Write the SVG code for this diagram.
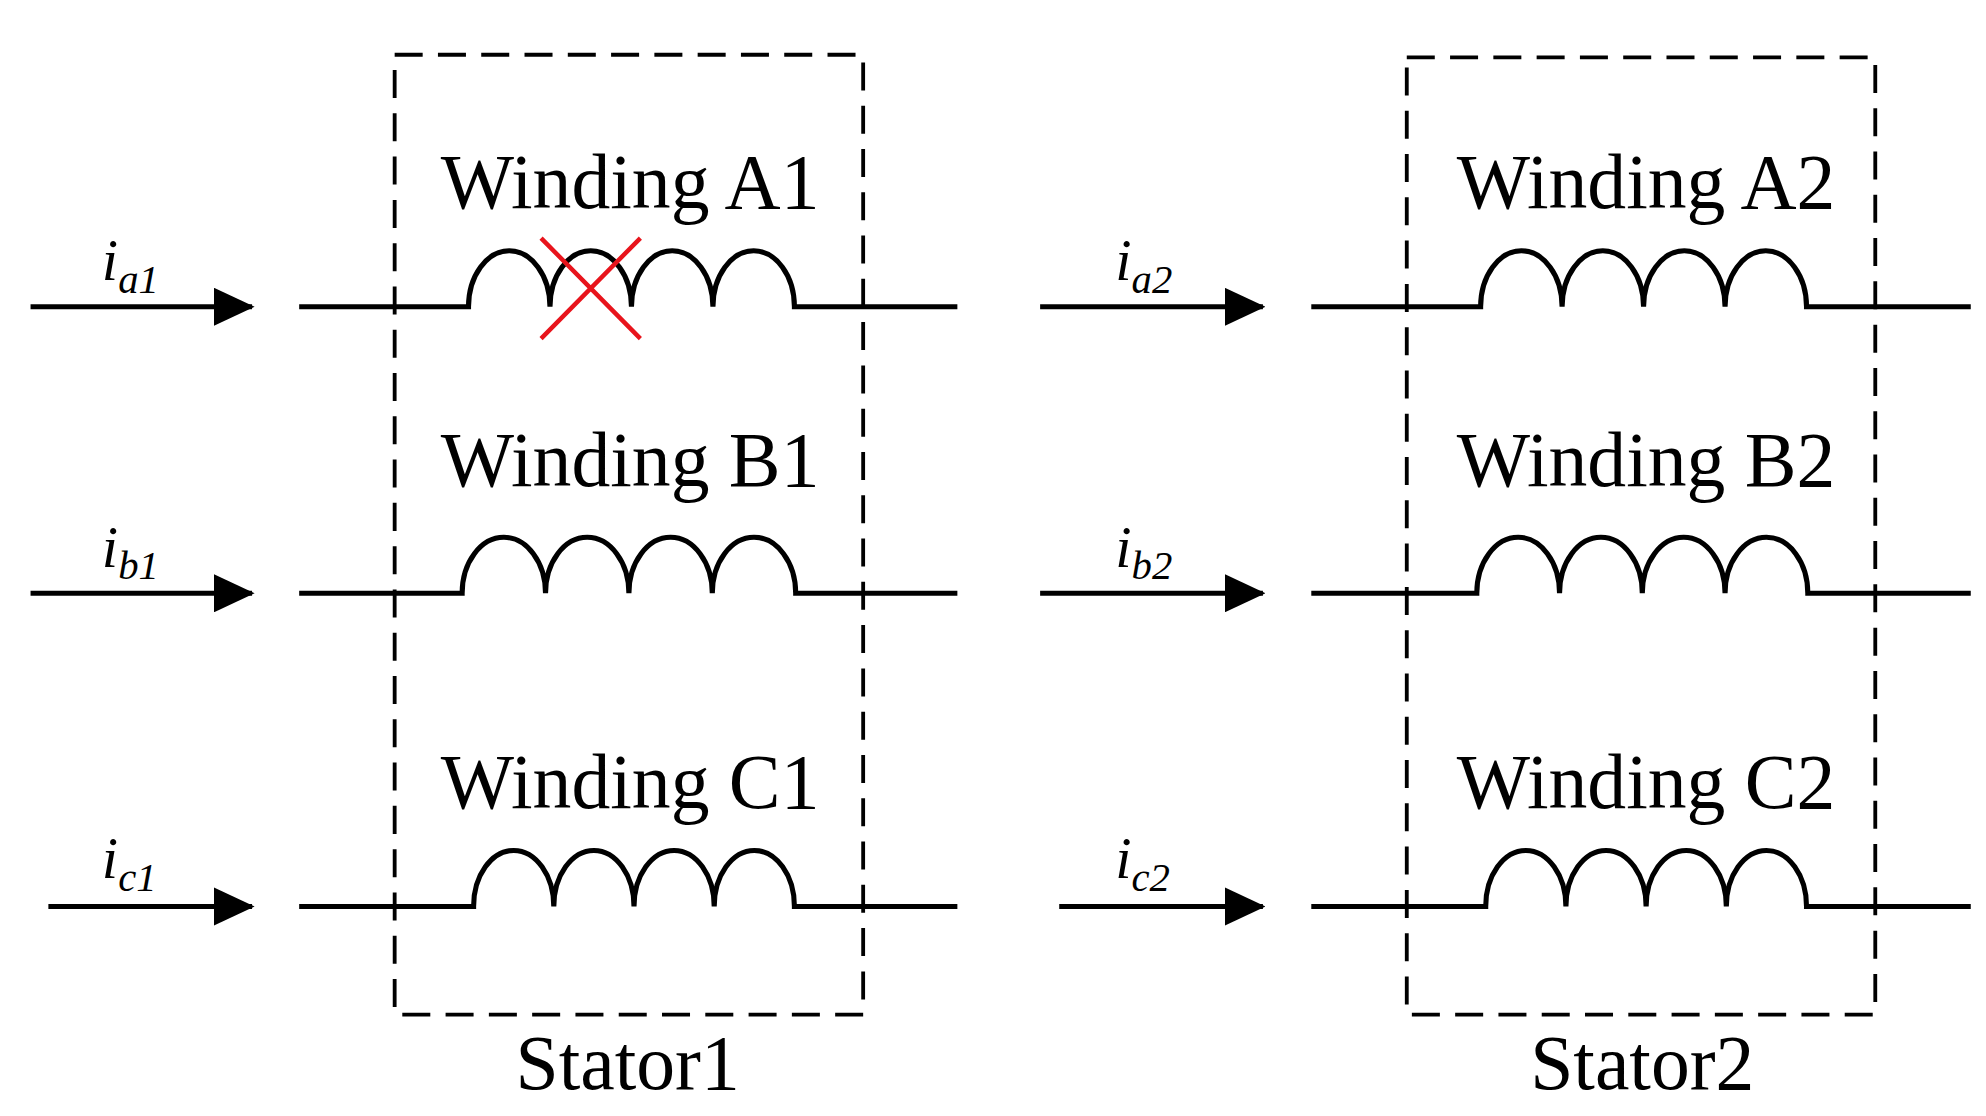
<svg xmlns="http://www.w3.org/2000/svg" width="1986" height="1116" viewBox="0 0 1986 1116">
<defs>
<style>
.w{fill:none;stroke:#000;stroke-width:4}
.box{fill:none;stroke:#000;stroke-width:3;stroke-dasharray:22 12}
.t{font-family:"Liberation Serif","Times New Roman",serif;font-size:61px;text-anchor:middle;fill:#000}
.i{font-family:"Liberation Serif","Times New Roman",serif;font-style:italic;font-size:46px;fill:#000}
.s{font-size:32px}
</style>
<marker id="ah" markerWidth="32" markerHeight="30" refX="30" refY="15" orient="auto" markerUnits="userSpaceOnUse" viewBox="0 0 32 30"><path d="M0,0L32,15L0,30z" fill="#000"/></marker>
</defs>
<rect width="1986" height="1116" fill="#fff"/>
<g transform="scale(1.2731)">
<g id="stator1"><rect class="box" x="310" y="43" width="368" height="754"/><text class="t" x="493" y="855">Stator1</text></g>
<g id="stator2"><rect class="box" x="1105" y="45" width="368" height="752"/><text class="t" x="1290" y="855">Stator2</text></g>
<g id="windingA1"><text class="t" x="495" y="163">Winding A1</text>
<path class="w" d="M235,241H368a32,44 0 0 1 64,0a32,44 0 0 1 64,0a32,44 0 0 1 64,0a32,44 0 0 1 64,0H752"/>
<path d="M425,187L503,266M503,187L425,266" stroke="#e8141c" stroke-width="3.5"/></g>
<g id="windingB1"><text class="t" x="495" y="382">Winding B1</text>
<path class="w" d="M235,466H363a32.75,44 0 0 1 65.5,0a32.75,44 0 0 1 65.5,0a32.75,44 0 0 1 65.5,0a32.75,44 0 0 1 65.5,0H752"/></g>
<g id="windingC1"><text class="t" x="495" y="635">Winding C1</text>
<path class="w" d="M235,712H372a31.5,44 0 0 1 63,0a31.5,44 0 0 1 63,0a31.5,44 0 0 1 63,0a31.5,44 0 0 1 63,0H752"/></g>
<g id="windingA2"><text class="t" x="1293" y="163">Winding A2</text>
<path class="w" d="M1030,241H1163a32,44 0 0 1 64,0a32,44 0 0 1 64,0a32,44 0 0 1 64,0a32,44 0 0 1 64,0H1548"/></g>
<g id="windingB2"><text class="t" x="1293" y="382">Winding B2</text>
<path class="w" d="M1030,466H1160a32.5,44 0 0 1 65,0a32.5,44 0 0 1 65,0a32.5,44 0 0 1 65,0a32.5,44 0 0 1 65,0H1548"/></g>
<g id="windingC2"><text class="t" x="1293" y="635">Winding C2</text>
<path class="w" d="M1030,712H1167a31.5,44 0 0 1 63,0a31.5,44 0 0 1 63,0a31.5,44 0 0 1 63,0a31.5,44 0 0 1 63,0H1548"/></g>
<g id="labels">
<text class="i" x="80" y="220">i<tspan class="s" dy="10">a1</tspan></text>
<text class="i" x="80" y="445">i<tspan class="s" dy="10">b1</tspan></text>
<text class="i" x="80" y="690">i<tspan class="s" dy="10">c1</tspan></text>
<text class="i" x="876" y="220">i<tspan class="s" dy="10">a2</tspan></text>
<text class="i" x="876" y="445">i<tspan class="s" dy="10">b2</tspan></text>
<text class="i" x="876" y="690">i<tspan class="s" dy="10">c2</tspan></text>
</g>
<g id="connectors" stroke="#000" stroke-width="4" marker-end="url(#ah)">
<line x1="24" y1="241" x2="198" y2="241"/>
<line x1="24" y1="466" x2="198" y2="466"/>
<line x1="38" y1="712" x2="198" y2="712"/>
<line x1="817" y1="241" x2="992" y2="241"/>
<line x1="817" y1="466" x2="992" y2="466"/>
<line x1="832" y1="712" x2="992" y2="712"/>
</g>
</g>
</svg>
